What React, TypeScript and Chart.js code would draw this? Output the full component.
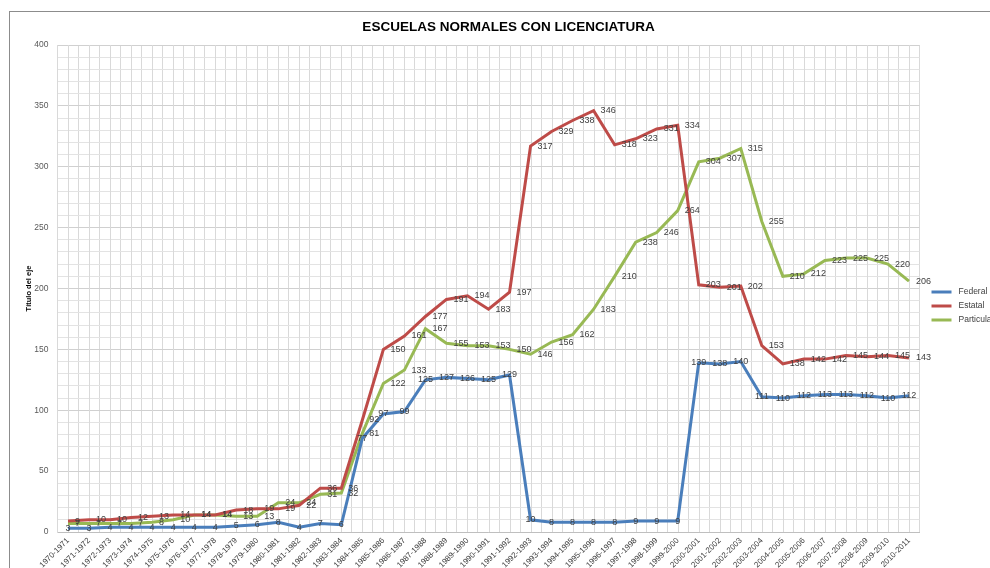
import { useEffect, useRef } from "react";
import { Chart, registerables } from "chart.js";

Chart.register(...registerables);

const TITLE = "ESCUELAS NORMALES CON LICENCIATURA";
const Y_TITLE = "Título del eje";

const CATEGORIES = [
  "1970-1971", "1971-1972", "1972-1973", "1973-1974", "1974-1975", "1975-1976",
  "1976-1977", "1977-1978", "1978-1979", "1979-1980", "1980-1981", "1981-1982",
  "1982-1983", "1983-1984", "1984-1985", "1985-1986", "1986-1987", "1987-1988",
  "1988-1989", "1989-1990", "1990-1991", "1991-1992", "1992-1993", "1993-1994",
  "1994-1995", "1995-1996", "1996-1997", "1997-1998", "1998-1999", "1999-2000",
  "2000-2001", "2001-2002", "2002-2003", "2003-2004", "2004-2005", "2005-2006",
  "2006-2007", "2007-2008", "2008-2009", "2009-2010", "2010-2011",
];

const FEDERAL = [
  3, 3, 4, 4, 4, 4, 4, 4, 5, 6, 8, 4, 7, 6, 77, 97, 99, 125, 127, 126, 125,
  129, 10, 8, 8, 8, 8, 9, 9, 9, 139, 138, 140, 111, 110, 112, 113, 113, 112, 110, 112,
];

const ESTATAL = [
  9, 10, 10, 12, 13, 14, 14, 14, 18, 19, 19, 22, 36, 36, 92, 150, 161, 177, 191, 194, 183,
  197, 317, 329, 338, 346, 318, 323, 331, 334, 203, 201, 202, 153, 138, 142, 142, 145, 144, 145, 143,
];

const PARTICULAR = [
  7, 7, 7, 7, 8, 10, 14, 14, 13, 13, 24, 24, 31, 32, 81, 122, 133, 167, 155, 153, 153,
  150, 146, 156, 162, 183, 210, 238, 246, 264, 304, 307, 315, 255, 210, 212, 223, 225, 225, 220, 206,
];

const SERIES_NAMES = ["Federal", "Estatal", "Particular"];
const SERIES_COLORS = ["#4A7EBB", "#BE4B48", "#98B954"];
const LABEL_POSITIONS = ["center", "right", "right"];

const Y_MIN = 0;
const Y_MAX = 400;
const Y_MINOR_STEP = 10;
const Y_MAJOR_STEP = 50;

const FONT = "'Liberation Sans', Arial, sans-serif";
const TEXT_COLOR = "#404040";
const GRID_COLOR = "#d9d9d9";

const framePlugin = {
  id: "frame",
  beforeDraw(chart: any) {
    const { ctx, width, height } = chart;
    ctx.save();
    ctx.fillStyle = "#ffffff";
    ctx.fillRect(0, 0, width, height);
    ctx.strokeStyle = "#8c8c8c";
    ctx.lineWidth = 1;
    ctx.strokeRect(9.5, 11.5, width + 20, height + 20);
    ctx.restore();
  },
};

const centerGridPlugin = {
  id: "centerGrid",
  beforeDatasetsDraw(chart: any) {
    const { ctx, chartArea } = chart;
    const xs = chart.scales.x;
    ctx.save();
    ctx.strokeStyle = GRID_COLOR;
    ctx.lineWidth = 1;
    for (let i = 0; i < CATEGORIES.length; i++) {
      const x = Math.round(xs.getPixelForValue(i)) + 0.5;
      ctx.beginPath();
      ctx.moveTo(x, chartArea.top);
      ctx.lineTo(x, chartArea.bottom);
      ctx.stroke();
    }
    ctx.restore();
  },
};

const dataLabelPlugin = {
  id: "dataLabels",
  afterDatasetsDraw(chart: any) {
    const { ctx } = chart;
    ctx.save();
    ctx.font = `9px ${FONT}`;
    ctx.fillStyle = TEXT_COLOR;
    ctx.textBaseline = "middle";
    chart.data.datasets.forEach((ds: any, di: number) => {
      const meta = chart.getDatasetMeta(di);
      meta.data.forEach((pt: any, i: number) => {
        const v = ds.data[i];
        if (ds.labelPos === "center") {
          ctx.textAlign = "center";
          ctx.fillText(String(v), pt.x, pt.y);
        } else {
          ctx.textAlign = "left";
          ctx.fillText(String(v), pt.x + 7, pt.y);
        }
      });
    });
    ctx.restore();
  },
};

const textPlugin = {
  id: "texts",
  afterDraw(chart: any) {
    const { ctx, chartArea } = chart;
    ctx.save();
    ctx.fillStyle = "#000000";
    ctx.font = `bold 13.5px ${FONT}`;
    ctx.textAlign = "center";
    ctx.textBaseline = "middle";
    ctx.fillText(TITLE, 508.5, 27);
    ctx.save();
    ctx.translate(29, (chartArea.top + chartArea.bottom) / 2);
    ctx.rotate(-Math.PI / 2);
    ctx.font = `bold 7.5px ${FONT}`;
    ctx.fillStyle = "#000000";
    ctx.fillText(Y_TITLE, 0, 0);
    ctx.restore();
    const lx = chartArea.right + 12;
    const ly0 = 292;
    const gap = 14;
    ctx.font = `8.5px ${FONT}`;
    ctx.textAlign = "left";
    chart.data.datasets.forEach((ds: any, di: number) => {
      const y = ly0 + di * gap;
      ctx.strokeStyle = ds.borderColor;
      ctx.lineWidth = 3;
      ctx.beginPath();
      ctx.moveTo(lx, y);
      ctx.lineTo(lx + 20, y);
      ctx.stroke();
      ctx.fillStyle = TEXT_COLOR;
      ctx.fillText(ds.label, lx + 27, y);
    });
    ctx.restore();
  },
};

export default function App() {
  const canvasRef = useRef<HTMLCanvasElement | null>(null);

  useEffect(() => {
    const canvas = canvasRef.current;
    if (!canvas) return;
    const seriesData = [FEDERAL, ESTATAL, PARTICULAR];
    const chart = new Chart(canvas, {
      type: "line",
      data: {
        labels: CATEGORIES,
        datasets: seriesData.map((d, i) => ({
          label: SERIES_NAMES[i],
          data: d,
          borderColor: SERIES_COLORS[i],
          backgroundColor: SERIES_COLORS[i],
          borderWidth: 3,
          pointRadius: 0,
          tension: 0,
          fill: false,
          labelPos: LABEL_POSITIONS[i],
        })) as any,
      },
      options: {
        responsive: false,
        animation: false,
        devicePixelRatio: 1,
        layout: { padding: { left: 0, right: 70.5, top: 45, bottom: 0 } },
        plugins: {
          legend: { display: false },
          title: { display: false },
          tooltip: { enabled: false },
        },
        scales: {
          x: {
            type: "category",
            offset: true,
            grid: { offset: true, color: GRID_COLOR, drawTicks: false },
            border: { display: true, color: "#bfbfbf" },
            ticks: {
              autoSkip: false,
              minRotation: 45,
              maxRotation: 45,
              padding: 4,
              color: TEXT_COLOR,
              font: { size: 8, family: FONT },
            },
            afterFit: (s: any) => {
              s.height = 36;
            },
          },
          y: {
            min: Y_MIN,
            max: Y_MAX,
            ticks: {
              stepSize: Y_MINOR_STEP,
              autoSkip: false,
              padding: 9,
              color: "#595959",
              font: { size: 8.5, family: FONT },
              callback: (v: any) => (Number(v) % Y_MAJOR_STEP === 0 ? String(v) : ""),
            },
            grid: {
              drawTicks: false,
              color: (ctx: any) =>
                ctx.tick && ctx.tick.value % Y_MAJOR_STEP === 0 ? "#d0d0d0" : "#e3e3e3",
            },
            border: { display: true, color: GRID_COLOR },
            afterFit: (s: any) => {
              s.width = 57.5;
            },
          },
        },
      } as any,
      plugins: [framePlugin, centerGridPlugin, dataLabelPlugin, textPlugin],
    });
    return () => chart.destroy();
  }, []);

  return (
    <div style={{ position: "fixed", left: 0, top: 0, width: 990, height: 568, background: "#fff" }}>
      <canvas ref={canvasRef} width={990} height={568} style={{ display: "block", width: 990, height: 568 }} />
    </div>
  );
}
